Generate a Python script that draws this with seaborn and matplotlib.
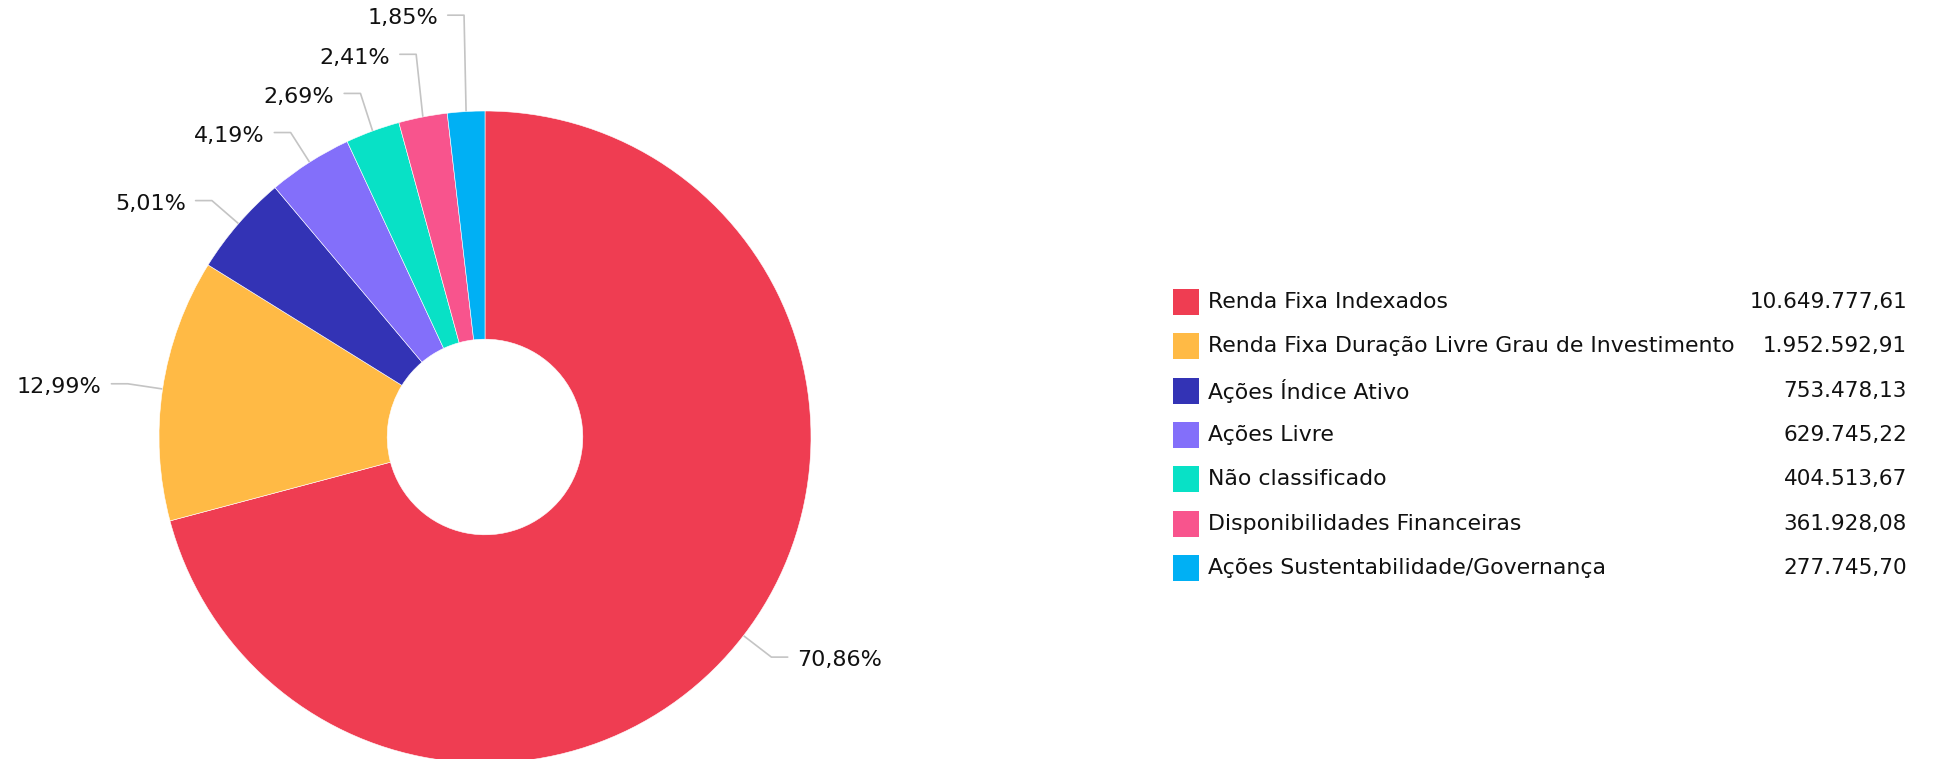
import matplotlib
matplotlib.use("Agg")
import matplotlib.pyplot as plt
from matplotlib.patches import Rectangle
import numpy as np
import seaborn as sns

categories = [
    "Renda Fixa Indexados",
    "Renda Fixa Duração Livre Grau de Investimento",
    "Ações Índice Ativo",
    "Ações Livre",
    "Não classificado",
    "Disponibilidades Financeiras",
    "Ações Sustentabilidade/Governança",
]
values = [10649777.61, 1952592.91, 753478.13, 629745.22, 404513.67, 361928.08, 277745.70]
colors = ["#EF3D52", "#FFBA45", "#3333B5", "#836FFA", "#08E1C6", "#F8548D", "#00B0F4"]


def fmt_br(v, dec=2):
    s = f"{v:,.{dec}f}"
    return s.replace(",", "X").replace(".", ",").replace("X", ".")


sns.set_theme(style="white")
plt.rcParams["font.family"] = ["DejaVu Sans"]

W, H = 1937, 759
fig = plt.figure(figsize=(W / 100, H / 100), dpi=100)
fig.patch.set_facecolor("white")

# donut, placed in pixel units
cx, cy, R = 485, 437, 326
ax = fig.add_axes([(cx - R) / W, (H - cy - R) / H, 2 * R / W, 2 * R / H])
palette = sns.color_palette(colors)
wedges, _ = ax.pie(values, colors=palette, startangle=90, counterclock=False,
                   radius=1, wedgeprops=dict(width=0.70, edgecolor="white", linewidth=0.4))
ax.set_xlim(-1, 1)
ax.set_ylim(-1, 1)
ax.axis("off")

# percentage labels with leader lines
total = sum(values)
pcts = [v / total * 100 for v in values]
items = []
for w, p in zip(wedges, pcts):
    ang = np.deg2rad((w.theta1 + w.theta2) / 2)
    ax_, ay_ = np.cos(ang), np.sin(ang)
    items.append(dict(p=p, ax=ax_, ay=ay_, ex=1.108 * ax_, ey=1.108 * ay_))

gap = 0.12
for side in (-1, 1):
    grp = sorted([it for it in items if np.sign(it["ex"]) == side], key=lambda d: d["ey"])
    for i in range(1, len(grp)):
        if grp[i]["ey"] < grp[i - 1]["ey"] + gap:
            grp[i]["ey"] = grp[i - 1]["ey"] + gap

for it in items:
    side = 1 if it["ex"] > 0 else -1
    hx = it["ex"] + side * 0.05
    ax.plot([it["ax"], it["ex"], hx], [it["ay"], it["ey"], it["ey"]],
            color="#C4C4C4", lw=1.2, clip_on=False, zorder=0)
    ax.text(hx + side * 0.03, it["ey"] - 0.01, fmt_br(it["p"]) + "%",
            ha="left" if side > 0 else "right", va="center", fontsize=16,
            color="#111111", clip_on=False)

# legend with values
lg = fig.add_axes([0, 0, 1, 1], zorder=-1)
lg.set_xlim(0, W)
lg.set_ylim(H, 0)
lg.axis("off")
y0, step, sq = 302, 44.3, 26
for i, (cat, val, col) in enumerate(zip(categories, values, palette)):
    y = y0 + i * step
    lg.add_patch(Rectangle((1173, y - sq / 2), sq, sq, color=col, lw=0))
    lg.text(1208, y, cat, ha="left", va="center", fontsize=15.8, color="#111111")
    lg.text(1907, y, fmt_br(val), ha="right", va="center", fontsize=15.5, color="#111111")

fig.savefig("out.png", dpi=100, facecolor="white")
